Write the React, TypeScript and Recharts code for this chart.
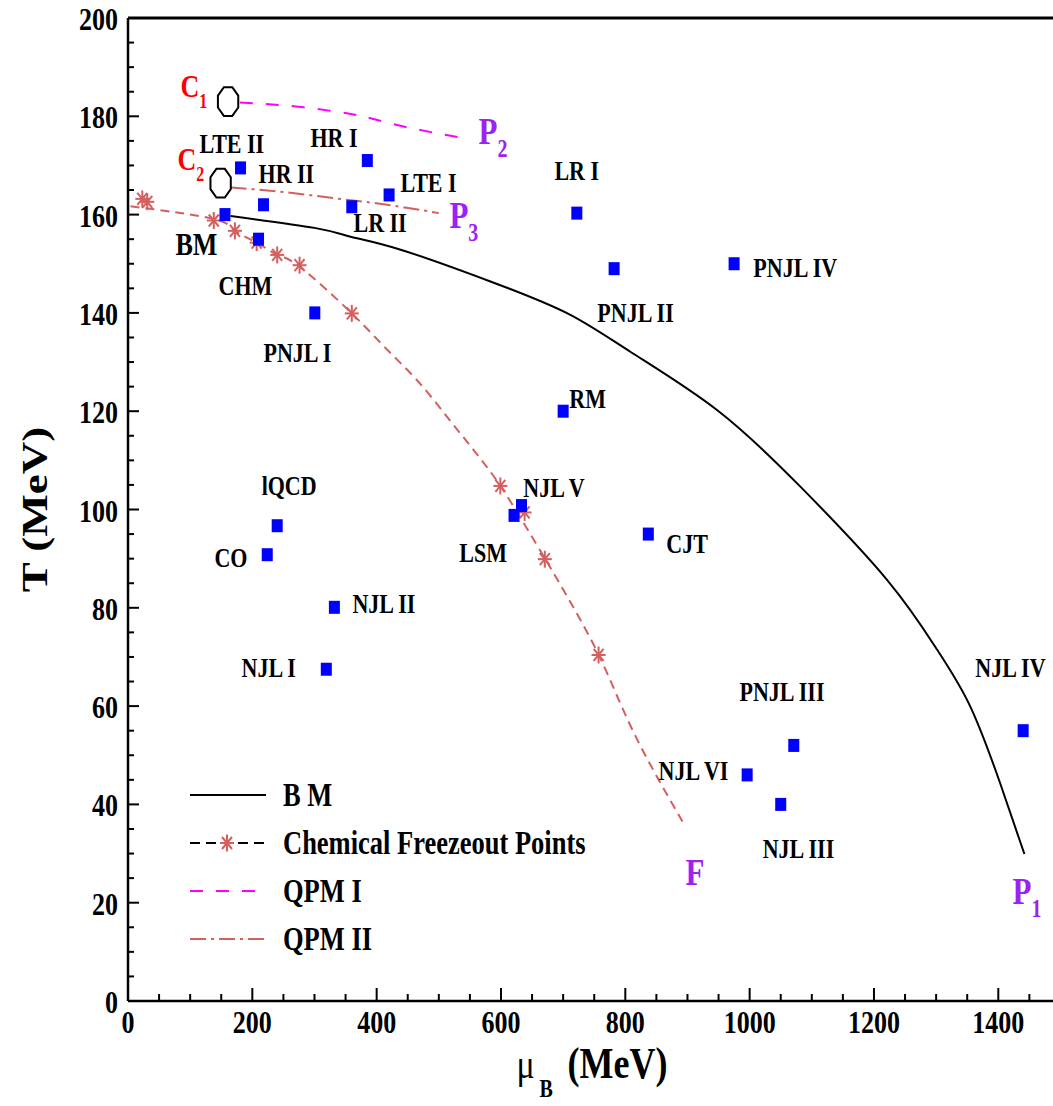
import React from 'react';
import { ComposedChart, Line, Scatter, XAxis, YAxis, ReferenceLine, Legend } from 'recharts';

const W = 1053;
const H = 1106;
const FONT = '"Liberation Serif", "Times New Roman", serif';
const SY = 1.25;
const RED_FO = '#d35f5f';
const PURPLE = '#9d20f5';

// ---- data ----
const xTicks = [0,50,100,150,200,250,300,350,400,450,500,550,600,650,700,750,800,850,900,950,1000,1050,1100,1150,1200,1250,1300,1350,1400,1450];
const yTicks = [0,5,10,15,20,25,30,35,40,45,50,55,60,65,70,75,80,85,90,95,100,105,110,115,120,125,130,135,140,145,150,155,160,165,170,175,180,185,190,195,200];

// B M critical line
const bmMu = [165, 300, 358, 440, 583, 707, 808, 948, 1082, 1221, 1302, 1355, 1403, 1442];
const bmT = [159.7, 157.3, 155.5, 152.8, 146.4, 139.9, 132.1, 120.2, 104.6, 85.7, 71.4, 59.9, 44.3, 29.9];

// chemical freeze-out fit curve
const foLineMu = [4, 138, 172, 207, 240, 276, 360, 417, 465, 513, 556, 598, 640, 670, 701, 758, 814, 892];
const foLineT = [161.7, 159.1, 156.7, 154.3, 151.8, 149.4, 139.9, 132.5, 126.3, 118.9, 112.1, 105, 96.5, 90.2, 83.5, 70.2, 54.5, 36.5];

// chemical freeze-out points
const foMu = [23, 31, 138, 172, 207, 240, 276, 360, 599, 638, 670.5, 757];
const foT = [163.2, 162.6, 158.8, 156.7, 154.3, 151.8, 149.7, 139.9, 104.8, 99.4, 89.9, 70.4];

// QPM I
const qpm1Mu = [180, 270, 352, 390, 455, 551];
const qpm1T = [182.8, 182, 180.6, 179.6, 177.6, 175.3];

// QPM II
const qpm2Mu = [165, 250, 334, 417, 500];
const qpm2T = [165.5, 164.6, 163.3, 162, 160.3];

// critical end points C1, C2
const cepMu = [161, 149];
const cepT = [183, 166.4];

// model predictions (blue squares)
const modelNames = ['LTE II','HR II','BM','CHM','HR I','LTE I','LR II','LR I','PNJL II','PNJL IV','PNJL I','RM','NJL V','LSM','CJT','lQCD','CO','NJL II','NJL I','PNJL III','NJL VI','NJL III','NJL IV'];
const modelMu = [181, 218, 156, 210, 385, 420, 360, 722, 782, 975, 300.5, 700, 633, 621, 837, 240, 224, 332, 319, 1071, 996, 1050, 1440];
const modelT = [169.5, 162, 160, 155, 171, 164, 161.6, 160.3, 149, 150, 140, 120, 100.8, 98.8, 95, 96.7, 90.8, 80.1, 67.5, 52, 46, 40, 55];

// text annotations (anchor = start of text, baseline)
const labelText = ['LTE II','HR II','HR I','LTE I','LR II','LR I','PNJL IV','PNJL II','BM','CHM','PNJL I','RM','NJL V','LSM','CJT','lQCD','CO','NJL II','NJL I','PNJL III','NJL VI','NJL III','NJL IV','P','P','P','F','C','C'];
const labelSub = ['','','','','','','','','','','','','','','','','','','','','','','','2','3','1','','1','2'];
const labelKind = ['m','m','m','m','m','m','m','m','big','m','m','m','m','m','m','m','m','m','m','m','m','m','m','p','p','p','p','c','c'];
const labelMu = [115, 210, 293.6, 438.4, 362.7, 686, 1006, 755, 76.4, 145.6, 218, 710, 636, 533, 866, 215, 139, 361, 182.6, 983.7, 853.4, 1021, 1363, 564, 517, 1423, 897, 84.5, 79.6];
const labelT = [172.5, 166.4, 173.8, 164.6, 156.5, 167, 147.3, 138.1, 151.8, 143.6, 130, 120.6, 102.5, 89.3, 91.1, 103, 88.3, 78.9, 65.9, 61, 45, 29.1, 65.9, 174.4, 157.3, 19.7, 23.6, 183.9, 169.1];

const legendNames = ['B M', 'Chemical Freezeout Points', 'QPM I', 'QPM II'];

// ---- build series ----
const zip = (a: number[], b: number[]) => a.map((v, i) => ({ x: v, y: b[i] }));
const bmData = zip(bmMu, bmT);
const foLineData = zip(foLineMu, foLineT);
const foData = zip(foMu, foT);
const qpm1Data = zip(qpm1Mu, qpm1T);
const qpm2Data = zip(qpm2Mu, qpm2T);
const cepData = zip(cepMu, cepT);
const modelData = modelMu.map((v, i) => ({ x: v, y: modelT[i], name: modelNames[i] }));
const labelData = labelMu.map((v, i) => ({ x: v, y: labelT[i], text: labelText[i], sub: labelSub[i], kind: labelKind[i] }));

// ---- shapes ----
const Square = (props: any) => {
  const { cx, cy } = props;
  if (cx == null || cy == null) return null;
  return <rect x={cx - 5.5} y={cy - 6.5} width={11} height={13} fill="#0000ff" />;
};

const Asterisk = (props: any) => {
  const { cx, cy } = props;
  if (cx == null || cy == null) return null;
  const a = 7, b = 8.5, d = 5, e = 6;
  return (
    <g stroke={RED_FO} strokeWidth={2}>
      <line x1={cx - a} x2={cx + a} y1={cy} y2={cy} />
      <line x1={cx} x2={cx} y1={cy - b} y2={cy + b} />
      <line x1={cx - d} x2={cx + d} y1={cy - e} y2={cy + e} />
      <line x1={cx - d} x2={cx + d} y1={cy + e} y2={cy - e} />
    </g>
  );
};

const Octagon = (props: any) => {
  const { cx, cy } = props;
  if (cx == null || cy == null) return null;
  const rx = 11, ry = 15.5;
  const pts: string[] = [];
  for (let k = 0; k < 8; k++) {
    const ang = (Math.PI / 8) + (k * Math.PI) / 4;
    pts.push(`${cx + rx * Math.cos(ang)},${cy + ry * Math.sin(ang)}`);
  }
  return <polygon points={pts.join(' ')} fill="none" stroke="#000" strokeWidth={2} />;
};

const LabelShape = (props: any) => {
  const { cx, cy, payload } = props;
  if (cx == null || cy == null || !payload) return null;
  let fill = '#000', size = 22, subSize = 16, dy = 10;
  if (payload.kind === 'big') size = 26;
  if (payload.kind === 'p') { fill = PURPLE; size = 31; subSize = 20; dy = 10.4; }
  if (payload.kind === 'c') { fill = '#ff0000'; size = 26; subSize = 16; dy = 8.5; }
  return (
    <text transform={`translate(${cx},${cy}) scale(1,${SY})`} x={0} y={0} fill={fill}
      fontFamily={FONT} fontWeight="bold" fontSize={size}>
      {payload.text}
      {payload.sub ? <tspan dy={dy} fontSize={subSize}>{payload.sub}</tspan> : null}
    </text>
  );
};

const XTick = (props: any) => {
  const { x, y, payload } = props;
  const v = payload.value;
  const major = v % 200 === 0;
  return (
    <g>
      <line x1={x} x2={x} y1={y} y2={y - (major ? 13 : 7)} stroke="#000" strokeWidth={2} />
      {major ? (
        <text transform={`translate(${x},${y + 32}) scale(1,${SY})`} textAnchor="middle"
          fontFamily={FONT} fontWeight="bold" fontSize={26} fill="#000">{v}</text>
      ) : null}
    </g>
  );
};

const YTick = (props: any) => {
  const { x, y, payload } = props;
  const v = payload.value;
  const major = v % 20 === 0;
  return (
    <g>
      <line x1={x} x2={x + (major ? 11 : 6)} y1={y} y2={y} stroke="#000" strokeWidth={2} />
      {major ? (
        <text transform={`translate(${x - 10},${y + 12}) scale(1,${SY})`} textAnchor="end"
          fontFamily={FONT} fontWeight="bold" fontSize={26} fill="#000">{v}</text>
      ) : null}
    </g>
  );
};

const YTitle = (props: any) => {
  const vb = props.viewBox || { x: 0, y: 18, width: 128, height: 983 };
  const cy = vb.y + vb.height / 2;
  return (
    <text transform={`translate(47,${cy}) scale(1,${SY}) rotate(-90)`} textAnchor="middle"
      fontFamily={FONT} fontWeight="bold" fontSize={36} fill="#000">T (MeV)</text>
  );
};

const XTitle = (props: any) => {
  const vb = props.viewBox || { x: 128, y: 1001, width: 925, height: 105 };
  const cx = vb.x + vb.width / 2;
  return (
    <g transform={`translate(${cx},1078) scale(1,${SY})`} fontFamily={FONT} fill="#000">
      <text x={-74} y={0} fontSize={34}>μ</text>
      <text x={-51} y={15} fontSize={20} fontWeight="bold">B</text>
      <text x={-23} y={0} fontSize={36} fontWeight="bold">(MeV)</text>
    </g>
  );
};

const LegendBox = () => {
  const ys = [795, 843, 891, 939];
  return (
    <svg width={430} height={190} style={{ overflow: 'visible', display: 'block' }}>
      <g transform="translate(-180,-770)">
        <line x1={190} x2={266} y1={ys[0]} y2={ys[0]} stroke="#000" strokeWidth={2} />
        <line x1={190} x2={266} y1={ys[1]} y2={ys[1]} stroke="#000" strokeWidth={2} strokeDasharray="10 6" />
        <Asterisk cx={227} cy={ys[1]} />
        <line x1={190} x2={266} y1={ys[2]} y2={ys[2]} stroke="#ff00ff" strokeWidth={2} strokeDasharray="13 13" />
        <line x1={190} x2={266} y1={ys[3]} y2={ys[3]} stroke={RED_FO} strokeWidth={2} strokeDasharray="16 5 3 5" />
        {legendNames.map((n, i) => (
          <text key={n} transform={`translate(283,${ys[i] + 11}) scale(1,${SY})`} fontFamily={FONT}
            fontWeight="bold" fontSize={26.5} fill="#000">{n}</text>
        ))}
      </g>
    </svg>
  );
};

export default function App() {
  return (
    <div style={{ position: 'absolute', left: 0, top: 0, width: W, height: H, background: '#fff' }}>
      <ComposedChart width={W} height={H} margin={{ top: 18, right: 0, left: 0, bottom: 0 }}>
        <XAxis type="number" dataKey="x" domain={[0, 1488]} allowDataOverflow ticks={xTicks} interval={0}
          height={105} tickSize={0} tickMargin={0} tickLine={false} tick={<XTick />}
          axisLine={{ stroke: '#000', strokeWidth: 2.5 }} label={{ content: <XTitle /> }} />
        <YAxis type="number" dataKey="y" domain={[0, 200]} allowDataOverflow ticks={yTicks} interval={0}
          width={128} tickSize={0} tickMargin={0} tickLine={false} tick={<YTick />}
          axisLine={{ stroke: '#000', strokeWidth: 2.5 }} label={{ content: <YTitle /> }} />
        <ReferenceLine y={200} stroke="#000" strokeWidth={3} />
        <Legend layout="vertical" verticalAlign="middle" align="center"
          wrapperStyle={{ left: 180, top: 770, width: 430, height: 190 }} content={<LegendBox />} />
        <Line data={bmData} dataKey="y" type="natural" stroke="#000" strokeWidth={2} dot={false}
          isAnimationActive={false} legendType="none" />
        <Line data={foLineData} dataKey="y" type="natural" stroke={RED_FO} strokeWidth={2}
          strokeDasharray="9 6" dot={false} isAnimationActive={false} legendType="none" />
        <Line data={qpm1Data} dataKey="y" type="natural" stroke="#ff00ff" strokeWidth={2}
          strokeDasharray="13 13" dot={false} isAnimationActive={false} legendType="none" />
        <Line data={qpm2Data} dataKey="y" type="natural" stroke={RED_FO} strokeWidth={2}
          strokeDasharray="16 5 3 5" dot={false} isAnimationActive={false} legendType="none" />
        <Scatter data={foData} dataKey="y" shape={<Asterisk />} isAnimationActive={false} legendType="none" />
        <Scatter data={modelData} dataKey="y" shape={<Square />} isAnimationActive={false} legendType="none" />
        <Scatter data={cepData} dataKey="y" shape={<Octagon />} isAnimationActive={false} legendType="none" />
        <Scatter data={labelData} dataKey="y" shape={<LabelShape />} isAnimationActive={false} legendType="none" />
      </ComposedChart>
    </div>
  );
}
